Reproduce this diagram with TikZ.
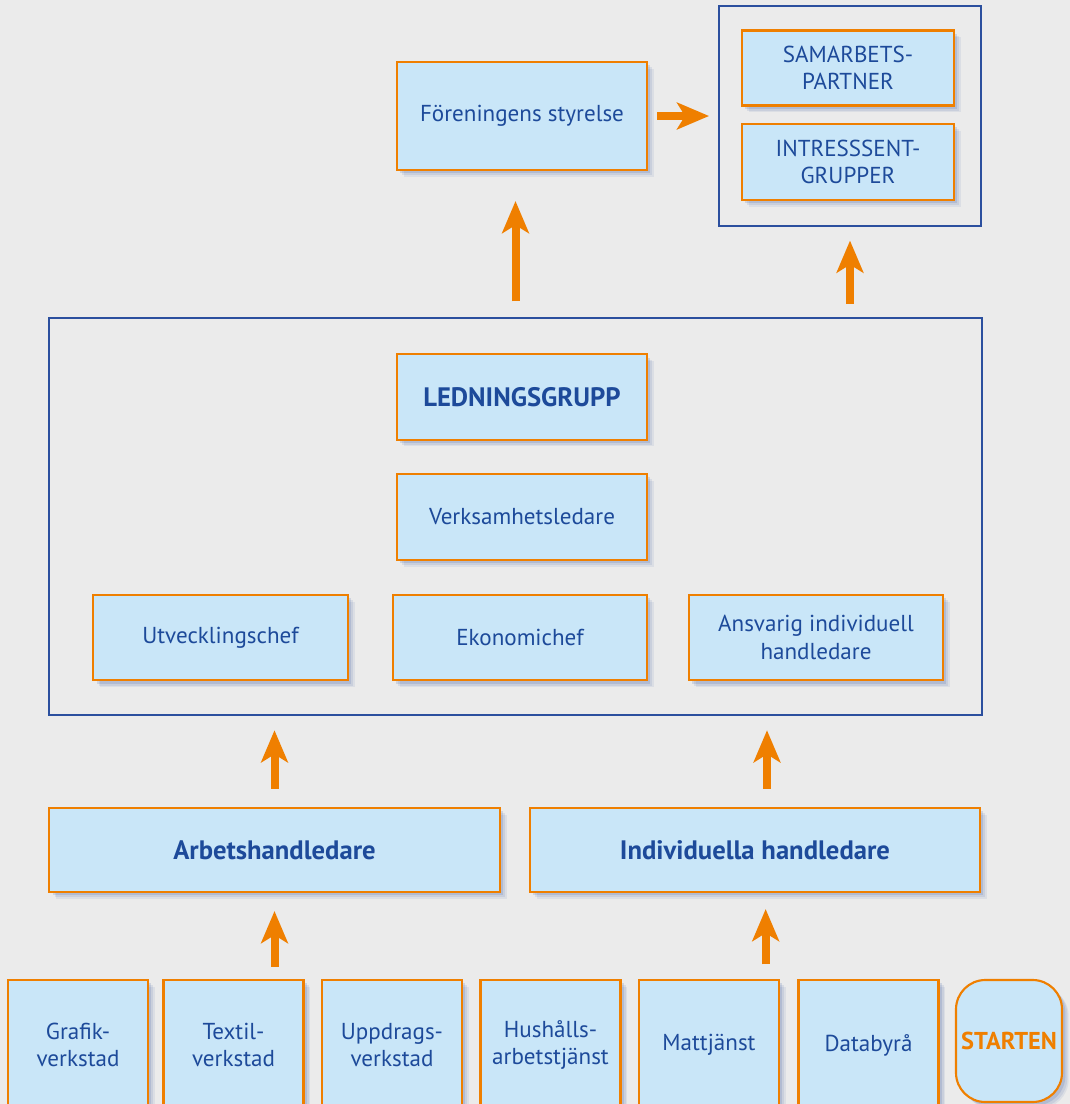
\documentclass[tikz,border=0pt]{standalone}
\usepackage{fontspec}
\setmainfont{PT Sans}
\usepackage{xcolor}
\usepackage{tikz}
\usetikzlibrary{arrows.meta,positioning,calc,shadows}

\definecolor{bgGray}{HTML}{EBEBEB}
\definecolor{boxBlue}{HTML}{C9E6F8}
\definecolor{lineOrange}{HTML}{EF7F00}
\definecolor{textBlue}{HTML}{1D4A9A}
\definecolor{frameBlue}{HTML}{2B4F9E}

\begin{document}
\begin{tikzpicture}[x=0.75pt,y=-0.75pt,
  unitbox/.style={draw=lineOrange,line width=1.6pt,fill=boxBlue,text=textBlue,
    align=center,inner sep=0pt,font=\fontsize{17.3}{20.5}\selectfont,
    drop shadow={shadow xshift=5pt,shadow yshift=-5pt,fill=frameBlue,opacity=0.08},
    drop shadow={shadow xshift=4pt,shadow yshift=-4pt,fill=frameBlue,opacity=0.1},
    drop shadow={shadow xshift=2.5pt,shadow yshift=-2.5pt,fill=frameBlue,opacity=0.15}},
  boldtext/.style={font=\fontsize{20}{24}\selectfont\bfseries},
  framebox/.style={draw=frameBlue,line width=0.9pt,inner sep=0pt},
  bigarrow/.style={draw=lineOrange,line width=6pt,
    -{Stealth[length=24pt,width=20pt,inset=6pt]}}]
  % page and background
  \fill[bgGray] (0,0) rectangle (1070,1104);
  \useasboundingbox (0,0) rectangle (1070,1104);

  % frames
  \node[framebox,minimum width=196.5pt,minimum height=165pt] (partframe) at (850,116) {};
  \node[framebox,minimum width=699.75pt,minimum height=297.75pt] (leadframe) at (515.5,516.5) {};

  % top row
  \node[unitbox,minimum width=187.5pt,minimum height=81pt] (styrelse) at (522,116) {Föreningens styrelse};
  \node[unitbox,minimum width=159pt,minimum height=56.25pt] (partner) at (848,68) {SAMARBETS-\\PARTNER};
  \node[unitbox,minimum width=159pt,minimum height=57pt] (intress) at (848,162) {INTRESSSENT-\\GRUPPER};

  % management
  \node[unitbox,boldtext,minimum width=187.5pt,minimum height=64pt] (ledgrp) at (522,397) {LEDNINGSGRUPP};
  \node[unitbox,minimum width=187.5pt,minimum height=64.5pt] (verks) at (522,517) {Verksamhetsledare};
  \node[unitbox,minimum width=191pt,minimum height=64pt] (utv) at (220.5,637.5) {Utvecklingschef};
  \node[unitbox,minimum width=190.5pt,minimum height=64pt] (ekon) at (520,637.5) {Ekonomichef};
  \node[unitbox,minimum width=190.5pt,minimum height=64pt] (ansv) at (816,637.5) {Ansvarig individuell\\handledare};

  % supervisors
  \node[unitbox,boldtext,minimum width=338pt,minimum height=63pt] (arbets) at (274.5,850) {Arbetshandledare};
  \node[unitbox,boldtext,minimum width=337.5pt,minimum height=63pt] (indiv) at (755,850) {Individuella handledare};

  % workshops
  \node[unitbox,minimum width=105pt,minimum height=97.5pt] (grafik) at (78,1045) {Grafik-\\verkstad};
  \node[unitbox,minimum width=105pt,minimum height=97.5pt] (textil) at (233.5,1045) {Textil-\\verkstad};
  \node[unitbox,minimum width=105pt,minimum height=97.5pt] (uppdrag) at (392,1045) {Uppdrags-\\verkstad};
  \node[unitbox,minimum width=105pt,minimum height=97.5pt] (hushall) at (550.5,1045) {Hushålls-\\arbetstjänst};
  \node[unitbox,minimum width=105pt,minimum height=97.5pt] (matt) at (709,1045) {Mattjänst};
  \node[unitbox,minimum width=105pt,minimum height=97.5pt] (data) at (868.5,1045) {Databyrå};
  \node[unitbox,minimum width=79.5pt,minimum height=91.5pt,rounded corners=22pt,
    text=lineOrange,font=\fontsize{18.3}{22}\selectfont\bfseries] (starten) at (1009,1041) {STARTEN};

  % arrows
  \draw[bigarrow,shorten <=7pt,shorten >=7pt] (styrelse.east) -- (styrelse.east -| partframe.west);
  \draw[bigarrow,shorten <=12pt,shorten >=22.5pt] (leadframe.north) -- (leadframe.north |- styrelse.south);
  \draw[bigarrow,shorten <=10pt,shorten >=10.5pt] (leadframe.north -| partframe.south) -- (partframe.south);
  \draw[bigarrow,shorten <=13.5pt,shorten >=11pt] (arbets.north) -- (arbets.north |- leadframe.south);
  \draw[bigarrow,shorten <=13.5pt,shorten >=11pt] ($(indiv.north)+(9pt,0)$) -- ($(indiv.north |- leadframe.south)+(9pt,0)$);
  \draw[bigarrow,shorten <=9pt,shorten >=13.5pt] (arbets.south |- textil.north) -- (arbets.south);
  \draw[bigarrow,shorten <=11pt,shorten >=12pt] ($(indiv.south |- matt.north)+(8pt,0)$) -- ($(indiv.south)+(8pt,0)$);
\end{tikzpicture}
\end{document}
